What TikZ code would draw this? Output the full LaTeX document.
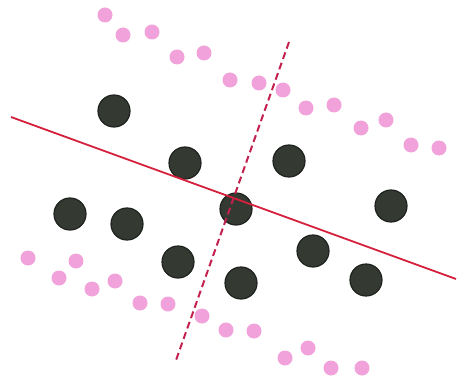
\documentclass[tikz,border=0pt]{standalone}
\usepackage{tikz}
\usetikzlibrary{positioning}
\definecolor{ink}{HTML}{1E221E}
\definecolor{blob}{HTML}{343A31}
\definecolor{pinkdot}{HTML}{F2A2DA}
\definecolor{cred}{HTML}{D4203C}
\definecolor{cmag}{HTML}{C4204E}
\tikzset{
  darkdot/.style={circle, draw=ink, line width=1.2pt, fill=blob, minimum size=32pt, inner sep=0pt},
  softdot/.style={circle, draw=none, fill=pinkdot, minimum size=15pt, inner sep=0pt},
  mainline/.style={draw=cred, line width=1.8pt},
  crossline/.style={draw=cmag, line width=2pt, dash pattern=on 7pt off 4pt},
}
\begin{document}
\begin{tikzpicture}[x=1pt, y=-1pt]
  \useasboundingbox (0,0) rectangle (462,382);
  % pink dots, upper band
  \foreach \x/\y [count=\i] in {105/15,123/35,152/32,177/57,204/53,230/80,259/83,283/90,306/108,334/105,361/128,386/120,411/145,439/148}{\node[softdot](pu\i) at (\x,\y){};}
  % pink dots, lower band
  \foreach \x/\y [count=\i] in {28/258,76/261,59/278,92/289,115/281,140/303,168/304,202/316,226/330,254/331,285/358,308/348,331/368,362/368}{\node[softdot](pl\i) at (\x,\y){};}
  % dark dots
  \foreach \x/\y [count=\i] in {114/111,185/163,289/161,70/214,127/224,236/209,391/206,178/262,241/283,313/251,366/280}{\node[darkdot](d\i) at (\x,\y){};}
  % the two lines
  \coordinate (sa) at (11,117);
  \coordinate (sb) at (456,279);
  \coordinate (ca) at (289,42);
  \coordinate (cb) at (175,363);
  \draw[mainline](sa)--(sb);
  \draw[crossline](ca)--(cb);
\end{tikzpicture}
\end{document}
